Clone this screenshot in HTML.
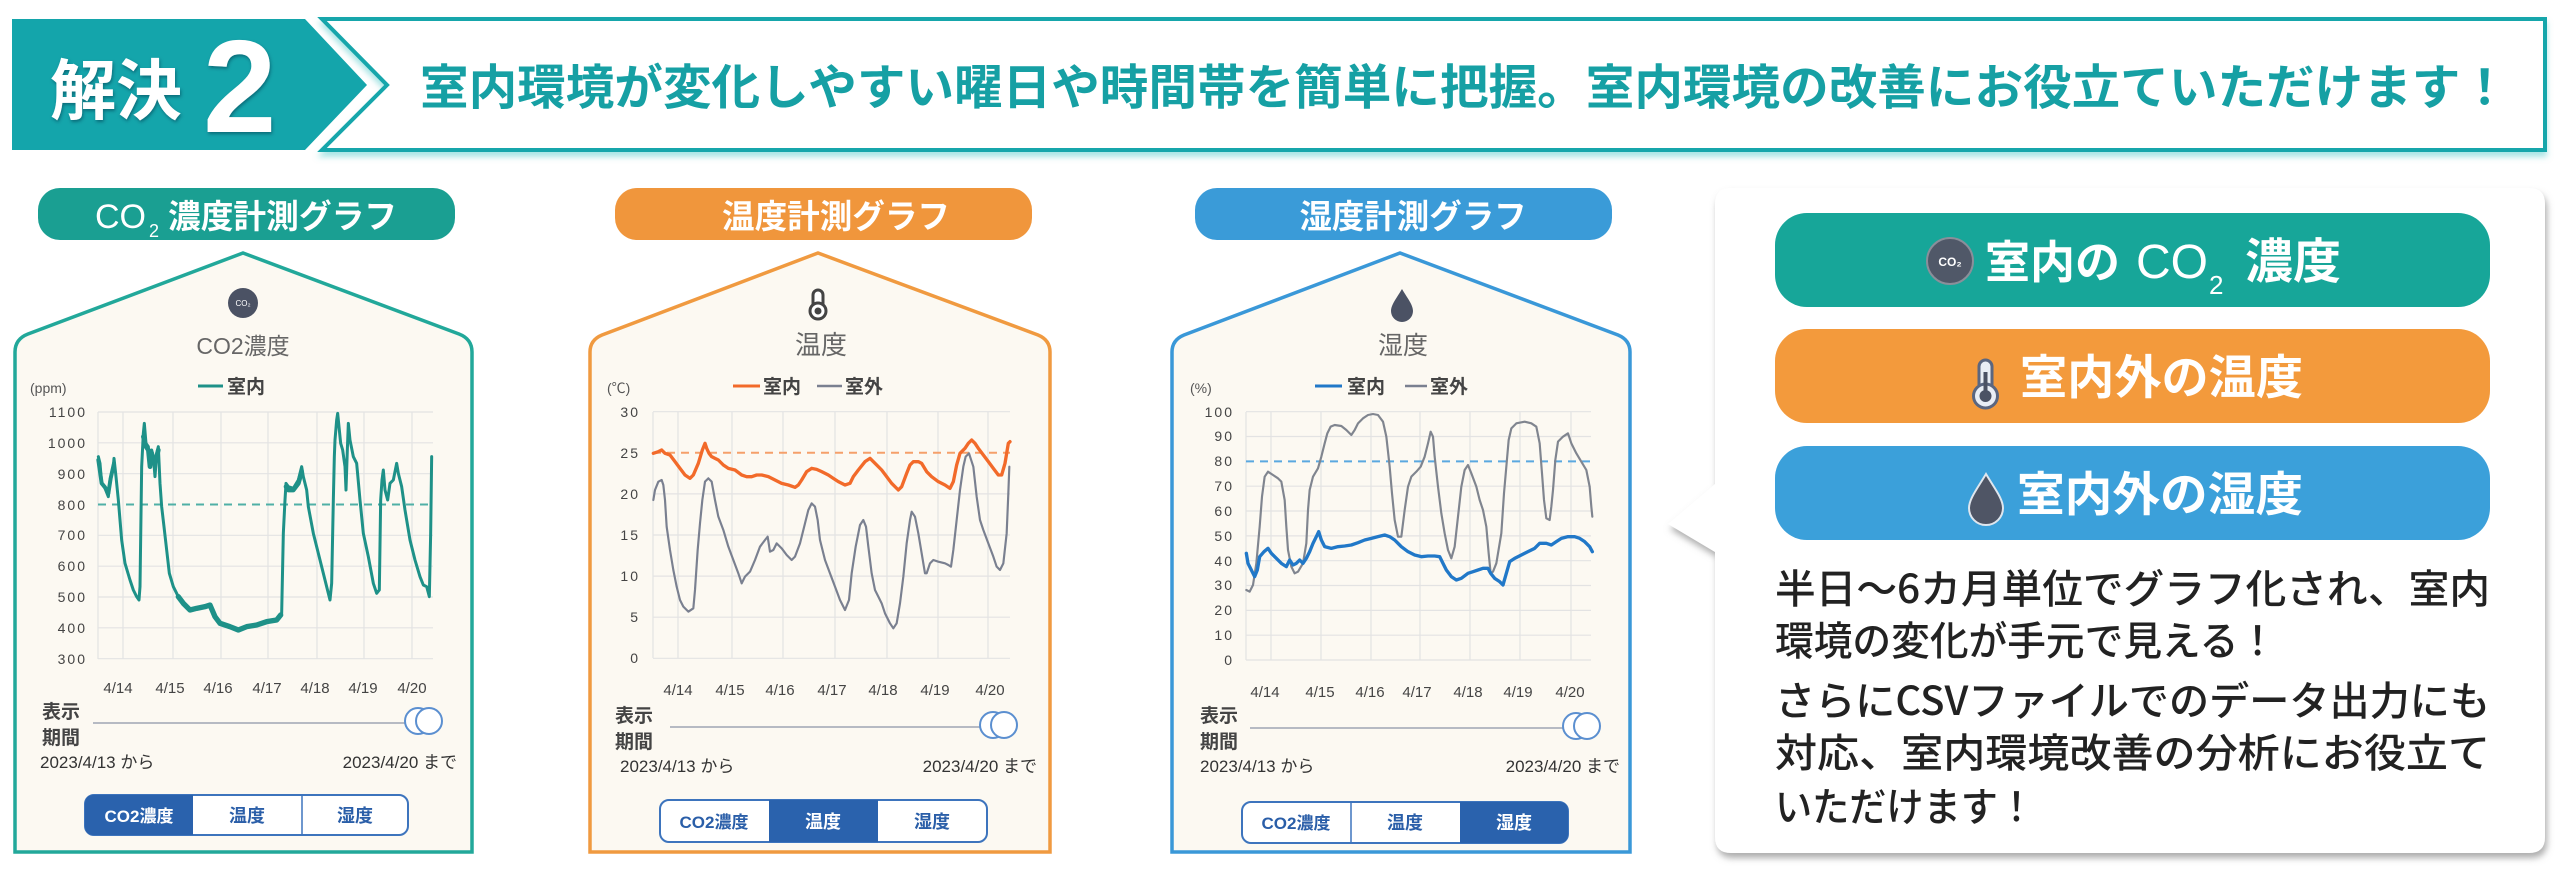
<!DOCTYPE html>
<html><head><meta charset="utf-8">
<style>
html,body{margin:0;padding:0;background:#fff;}
svg{display:block;}
text{font-family:"Liberation Sans","Noto Sans CJK JP",sans-serif;}
.j{font-family:"Noto Sans CJK JP","Liberation Sans",sans-serif;}
</style></head><body>
<svg width="2560" height="870" viewBox="0 0 2560 870" xmlns="http://www.w3.org/2000/svg">
<defs>
<filter id="sh" x="-5%" y="-5%" width="110%" height="115%"><feDropShadow dx="2" dy="5" stdDeviation="3.5" flood-color="#777" flood-opacity="0.6"/></filter>
<filter id="hs" x="-2%" y="-10%" width="104%" height="130%"><feDropShadow dx="0" dy="5" stdDeviation="3" flood-color="#5cc" flood-opacity="0.5"/></filter>
<filter id="ts" x="-10%" y="-10%" width="120%" height="130%"><feDropShadow dx="1" dy="2" stdDeviation="1.5" flood-color="#034" flood-opacity="0.5"/></filter>
</defs>

<!-- ===== HEADER ===== -->
<polygon points="12,19 305,19 367,85 305,150 12,150" fill="#14a5ab"/>
<polygon points="322,19 2545,19 2545,150 322,150 387,85" fill="#fff" stroke="#17a6ab" stroke-width="4" filter="url(#hs)"/>
<text x="50" y="114" class="j" font-size="66" font-weight="bold" fill="#fff" filter="url(#ts)">解決</text>
<text x="203" y="132" font-size="132" font-weight="bold" fill="#fff" filter="url(#ts)">2</text>
<text x="420" y="104" class="j" font-size="48" font-weight="bold" fill="#16a0a4" textLength="2089" lengthAdjust="spacingAndGlyphs">室内環境が変化しやすい曜日や時間帯を簡単に把握。室内環境の改善にお役立ていただけます！</text>

<!-- ===== PANEL 1 (CO2) ===== -->
<rect x="38" y="188" width="417" height="52" rx="22" fill="#1a9f92"/>
<text x="95" y="228" font-size="34" fill="#fff">CO</text>
<text x="149" y="237" font-size="18" fill="#fff">2</text>
<text x="168" y="228" class="j" font-size="33" font-weight="bold" fill="#fff" textLength="229" lengthAdjust="spacingAndGlyphs">濃度計測グラフ</text>
<path d="M15 852 L15 352 Q15 339 28 334 L243 253 L459 334 Q472 339 472 352 L472 852 Z" fill="#fcf9f2" stroke="#22a89a" stroke-width="3.5"/>
<circle cx="243" cy="303" r="15" fill="#4b5264"/>
<text x="243" y="306" font-size="8" fill="#fff" text-anchor="middle">CO₂</text>
<text x="243" y="354" font-size="23" fill="#666" text-anchor="middle">CO2<tspan class="j">濃度</tspan></text>
<text x="30" y="393" font-size="14" fill="#555">(ppm)</text>
<line x1="198" y1="386" x2="223" y2="386" stroke="#1e9188" stroke-width="3"/>
<text x="227" y="393" class="j" font-size="19" font-weight="bold" fill="#444">室内</text>
<g stroke="#e3e3e3" stroke-width="1.2">
<line x1="98" y1="412" x2="433" y2="412"/><line x1="98" y1="442.8" x2="433" y2="442.8"/><line x1="98" y1="473.7" x2="433" y2="473.7"/><line x1="98" y1="535.3" x2="433" y2="535.3"/><line x1="98" y1="566.2" x2="433" y2="566.2"/><line x1="98" y1="597" x2="433" y2="597"/><line x1="98" y1="627.8" x2="433" y2="627.8"/><line x1="98" y1="658.7" x2="433" y2="658.7"/>
<line x1="98" y1="412" x2="98" y2="659"/><line x1="123" y1="412" x2="123" y2="659"/><line x1="173" y1="412" x2="173" y2="659"/><line x1="221" y1="412" x2="221" y2="659"/><line x1="268" y1="412" x2="268" y2="659"/><line x1="317" y1="412" x2="317" y2="659"/><line x1="364" y1="412" x2="364" y2="659"/><line x1="412" y1="412" x2="412" y2="659"/>
</g>
<line x1="98" y1="504.5" x2="433" y2="504.5" stroke="#4fb0a6" stroke-width="2" stroke-dasharray="8 6"/>
<g font-size="14" fill="#444" text-anchor="end" letter-spacing="2">
<text x="87" y="417">1100</text><text x="87" y="448">1000</text><text x="87" y="479">900</text><text x="87" y="510">800</text><text x="87" y="540">700</text><text x="87" y="571">600</text><text x="87" y="602">500</text><text x="87" y="633">400</text><text x="87" y="664">300</text>
</g>
<g transform="translate(90,400) scale(0.33333)" fill="none" stroke="#1e9188" stroke-linejoin="round" stroke-linecap="round">
<polyline stroke-width="9" points="25,170 30,190 35,250 45,265 55,290 60,240 70,200 72,175 78,230 85,300 95,420 105,490 120,540 130,570 140,590 147,600 150,560 155,200 160,100 163,70 168,130 175,140 180,200 185,150 190,170 195,230 200,160 205,140 210,250 215,320 222,380 230,450 238,520 250,560 265,590 280,610 300,630 320,625 345,620 360,615 375,650 390,670 420,680 445,690 470,680 500,675 530,665 560,660 575,640 580,400 585,300 588,250 595,260 610,265 625,240 635,200 640,230 650,270 655,320 670,400 690,480 705,540 715,580 720,600 725,550 730,300 733,170 735,120 740,60 743,40 747,80 752,130 758,150 765,200 768,270 772,150 775,70 780,120 790,170 800,190 810,300 820,400 835,470 850,550 860,580 868,570 872,300 876,240 880,210 885,270 893,300 900,250 910,240 920,190 925,220 935,260 945,330 960,420 975,480 990,530 1000,555 1010,560 1018,590 1022,400 1025,170"/>
<polyline stroke-width="16" points="265,590 280,610 300,630 320,625 345,620 360,615 375,650 390,670 420,680 445,690 470,680 500,675 530,665 560,660 572,645"/>
<polyline stroke-width="14" points="160,110 168,140 175,150 180,200 185,160 190,180 200,170 205,150"/>
<polyline stroke-width="14" points="588,260 595,270 610,270 625,250 635,215"/>
<polyline stroke-width="12" points="25,180 35,250 45,262 55,280 62,235 72,190"/>
</g>
<g font-size="15" fill="#444" text-anchor="middle">
<text x="118" y="693">4/14</text><text x="170" y="693">4/15</text><text x="218" y="693">4/16</text><text x="267" y="693">4/17</text><text x="315" y="693">4/18</text><text x="363" y="693">4/19</text><text x="412" y="693">4/20</text>
</g>
<text x="42" y="718" class="j" font-size="19" font-weight="bold" fill="#444">表示</text>
<text x="42" y="744" class="j" font-size="19" font-weight="bold" fill="#444">期間</text>
<line x1="93" y1="723" x2="408" y2="723" stroke="#b6bac3" stroke-width="2"/>
<circle cx="418" cy="721" r="13" fill="#fff" stroke="#5b8fd0" stroke-width="2"/>
<circle cx="429" cy="721" r="13" fill="#fff" stroke="#5b8fd0" stroke-width="2"/>
<text x="40" y="768" font-size="17" fill="#333">2023/4/13 <tspan class="j">から</tspan></text>
<text x="457" y="768" font-size="17" fill="#333" text-anchor="end">2023/4/20 <tspan class="j">まで</tspan></text>
<rect x="85" y="795" width="323" height="40" rx="9" fill="#fff" stroke="#3d74bd" stroke-width="2"/>
<path d="M94 795 H193 V835 H94 Q85 835 85 826 V804 Q85 795 94 795 Z" fill="#2a62ad"/>
<line x1="302" y1="796" x2="302" y2="834" stroke="#3d74bd" stroke-width="1.5"/>
<text x="139" y="822" font-size="17" font-weight="bold" fill="#fff" text-anchor="middle">CO2<tspan class="j">濃度</tspan></text>
<text x="247" y="822" class="j" font-size="18" font-weight="bold" fill="#2a5ea8" text-anchor="middle">温度</text>
<text x="355" y="822" class="j" font-size="18" font-weight="bold" fill="#2a5ea8" text-anchor="middle">湿度</text>

<!-- ===== PANEL 2 (Temp) ===== -->
<rect x="615" y="188" width="417" height="52" rx="22" fill="#f0963c"/>
<text x="836" y="228" class="j" font-size="33" font-weight="bold" fill="#fff" text-anchor="middle" textLength="228" lengthAdjust="spacingAndGlyphs">温度計測グラフ</text>
<path d="M590 852 L590 352 Q590 340 602 335 L818 253 L1038 335 Q1050 340 1050 352 L1050 852 Z" fill="#fcf9f2" stroke="#f09a40" stroke-width="3.5"/>
<rect x="813" y="290" width="10" height="19" rx="5" fill="#fff" stroke="#444" stroke-width="3"/>
<circle cx="818" cy="311" r="8" fill="#fff" stroke="#444" stroke-width="3"/>
<circle cx="818" cy="311" r="3.5" fill="#444"/>
<text x="821" y="354" class="j" font-size="26" fill="#666" text-anchor="middle">温度</text>
<text x="607" y="393" font-size="14" fill="#555">(℃)</text>
<line x1="733" y1="386" x2="760" y2="386" stroke="#f26a2a" stroke-width="3"/>
<text x="763" y="393" class="j" font-size="19" font-weight="bold" fill="#444">室内</text>
<line x1="817" y1="386" x2="842" y2="386" stroke="#7a8090" stroke-width="2.5"/>
<text x="845" y="393" class="j" font-size="19" font-weight="bold" fill="#444">室外</text>
<g stroke="#e3e3e3" stroke-width="1.2">
<line x1="653" y1="411.7" x2="1010" y2="411.7"/><line x1="653" y1="493.9" x2="1010" y2="493.9"/><line x1="653" y1="535" x2="1010" y2="535"/><line x1="653" y1="576.1" x2="1010" y2="576.1"/><line x1="653" y1="617.2" x2="1010" y2="617.2"/><line x1="653" y1="658.3" x2="1010" y2="658.3"/>
<line x1="653" y1="412" x2="653" y2="658"/><line x1="678" y1="412" x2="678" y2="658"/><line x1="732" y1="412" x2="732" y2="658"/><line x1="783" y1="412" x2="783" y2="658"/><line x1="835" y1="412" x2="835" y2="658"/><line x1="887" y1="412" x2="887" y2="658"/><line x1="938" y1="412" x2="938" y2="658"/><line x1="988" y1="412" x2="988" y2="658"/>
</g>
<line x1="653" y1="452.8" x2="1010" y2="452.8" stroke="#f5a06a" stroke-width="2" stroke-dasharray="8 6"/>
<g font-size="14" fill="#444" text-anchor="end" letter-spacing="2">
<text x="640" y="417">30</text><text x="640" y="458">25</text><text x="640" y="499">20</text><text x="640" y="540">15</text><text x="640" y="581">10</text><text x="640" y="622">5</text><text x="640" y="663">0</text>
</g>
<g transform="translate(645,400) scale(0.33333)" fill="none" stroke-linejoin="round" stroke-linecap="round">
<polyline stroke="#7a8090" stroke-width="6.5" points="25,300 30,270 40,245 50,240 55,255 60,300 65,380 75,450 85,510 95,560 105,600 115,620 130,635 145,625 150,570 158,450 165,370 172,300 180,245 190,235 200,245 210,300 220,350 235,390 250,440 265,480 280,520 290,550 300,530 315,515 330,480 345,440 360,420 368,410 375,455 385,450 395,430 410,445 425,465 440,480 450,470 465,430 480,370 490,330 500,310 510,320 518,360 525,420 540,480 555,520 570,560 585,600 600,630 612,600 620,520 632,440 645,375 655,360 663,380 670,440 680,520 690,570 700,590 710,610 720,640 735,670 745,685 755,670 765,610 775,530 785,430 795,360 800,335 810,350 820,400 830,460 840,520 845,520 855,490 865,480 880,485 900,490 910,495 918,500 925,450 935,360 945,270 955,200 962,170 972,160 985,200 995,290 1005,360 1015,390 1030,430 1045,470 1055,500 1065,510 1075,490 1085,400 1090,280 1093,200"/>
<polyline stroke="#f26a2a" stroke-width="10" points="25,160 40,155 50,150 60,160 75,165 90,185 105,205 120,225 135,235 145,225 160,190 172,150 180,130 185,145 192,160 200,170 210,175 220,180 235,195 250,205 270,210 290,225 305,230 320,230 335,225 350,225 370,230 390,240 410,250 430,255 450,262 460,255 470,240 485,215 500,205 515,208 530,215 550,225 565,235 580,245 600,255 615,250 625,230 640,210 660,185 675,175 690,190 710,210 725,230 740,250 760,270 770,260 785,220 795,195 805,185 820,185 830,190 845,215 860,230 880,245 900,255 915,265 925,245 935,195 945,160 960,145 970,130 980,120 990,130 1000,145 1015,165 1030,185 1045,205 1060,225 1070,225 1080,190 1090,130 1095,125"/>
</g>
<g font-size="15" fill="#444" text-anchor="middle">
<text x="678" y="695">4/14</text><text x="730" y="695">4/15</text><text x="780" y="695">4/16</text><text x="832" y="695">4/17</text><text x="883" y="695">4/18</text><text x="935" y="695">4/19</text><text x="990" y="695">4/20</text>
</g>
<text x="615" y="722" class="j" font-size="19" font-weight="bold" fill="#444">表示</text>
<text x="615" y="748" class="j" font-size="19" font-weight="bold" fill="#444">期間</text>
<line x1="670" y1="727" x2="983" y2="727" stroke="#b6bac3" stroke-width="2"/>
<circle cx="993" cy="725" r="13" fill="#fff" stroke="#5b8fd0" stroke-width="2"/>
<circle cx="1004" cy="725" r="13" fill="#fff" stroke="#5b8fd0" stroke-width="2"/>
<text x="620" y="772" font-size="17" fill="#333">2023/4/13 <tspan class="j">から</tspan></text>
<text x="1037" y="772" font-size="17" fill="#333" text-anchor="end">2023/4/20 <tspan class="j">まで</tspan></text>
<rect x="660" y="800" width="327" height="42" rx="9" fill="#fff" stroke="#3d74bd" stroke-width="2"/>
<rect x="769" y="800" width="109" height="42" fill="#2a62ad"/>
<text x="714" y="828" font-size="17" font-weight="bold" fill="#2a5ea8" text-anchor="middle">CO2<tspan class="j">濃度</tspan></text>
<text x="823" y="828" class="j" font-size="18" font-weight="bold" fill="#fff" text-anchor="middle">温度</text>
<text x="932" y="828" class="j" font-size="18" font-weight="bold" fill="#2a5ea8" text-anchor="middle">湿度</text>

<!-- ===== PANEL 3 (Humidity) ===== -->
<rect x="1195" y="188" width="417" height="52" rx="22" fill="#3a9bd8"/>
<text x="1413" y="228" class="j" font-size="33" font-weight="bold" fill="#fff" text-anchor="middle" textLength="227" lengthAdjust="spacingAndGlyphs">湿度計測グラフ</text>
<path d="M1172 852 L1172 352 Q1172 340 1184 335 L1400 253 L1618 335 Q1630 340 1630 352 L1630 852 Z" fill="#fcf9f2" stroke="#3a98d8" stroke-width="3.5"/>
<path d="M1402 289 C1396 299 1391 305 1391 311 A11 11 0 0 0 1413 311 C1413 305 1408 299 1402 289 Z" fill="#4b5264"/>
<text x="1403" y="354" class="j" font-size="25" fill="#666" text-anchor="middle">湿度</text>
<text x="1190" y="393" font-size="14" fill="#555">(%)</text>
<line x1="1315" y1="386" x2="1342" y2="386" stroke="#2178c8" stroke-width="3"/>
<text x="1347" y="393" class="j" font-size="19" font-weight="bold" fill="#444">室内</text>
<line x1="1405" y1="386" x2="1427" y2="386" stroke="#7a8090" stroke-width="2.5"/>
<text x="1430" y="393" class="j" font-size="19" font-weight="bold" fill="#444">室外</text>
<g stroke="#e3e3e3" stroke-width="1.2">
<line x1="1246" y1="411.7" x2="1591" y2="411.7"/><line x1="1246" y1="436.5" x2="1591" y2="436.5"/><line x1="1246" y1="486.2" x2="1591" y2="486.2"/><line x1="1246" y1="511" x2="1591" y2="511"/><line x1="1246" y1="535.9" x2="1591" y2="535.9"/><line x1="1246" y1="560.7" x2="1591" y2="560.7"/><line x1="1246" y1="585.5" x2="1591" y2="585.5"/><line x1="1246" y1="610.4" x2="1591" y2="610.4"/><line x1="1246" y1="635.2" x2="1591" y2="635.2"/><line x1="1246" y1="660" x2="1591" y2="660"/>
<line x1="1246" y1="412" x2="1246" y2="660"/><line x1="1271" y1="412" x2="1271" y2="660"/><line x1="1321" y1="412" x2="1321" y2="660"/><line x1="1371" y1="412" x2="1371" y2="660"/><line x1="1420" y1="412" x2="1420" y2="660"/><line x1="1470" y1="412" x2="1470" y2="660"/><line x1="1520" y1="412" x2="1520" y2="660"/><line x1="1571" y1="412" x2="1571" y2="660"/>
</g>
<line x1="1246" y1="461.4" x2="1591" y2="461.4" stroke="#5aa8e0" stroke-width="2" stroke-dasharray="8 6"/>
<g font-size="14" fill="#444" text-anchor="end" letter-spacing="2">
<text x="1234" y="417">100</text><text x="1234" y="441">90</text><text x="1234" y="466">80</text><text x="1234" y="491">70</text><text x="1234" y="516">60</text><text x="1234" y="541">50</text><text x="1234" y="566">40</text><text x="1234" y="590">30</text><text x="1234" y="615">20</text><text x="1234" y="640">10</text><text x="1234" y="665">0</text>
</g>
<g transform="translate(1238,400) scale(0.33333)" fill="none" stroke-linejoin="round" stroke-linecap="round">
<polyline stroke="#80858f" stroke-width="6.5" points="25,570 35,575 45,555 55,490 65,380 72,290 80,230 90,215 105,225 120,235 130,245 140,300 145,380 150,450 160,500 170,520 180,515 195,490 205,430 210,330 215,270 225,230 240,205 250,170 260,130 268,100 278,80 290,75 310,78 325,90 340,105 350,90 360,70 375,55 390,45 405,42 420,45 435,65 445,110 455,200 462,280 470,360 480,410 490,410 500,330 510,260 520,230 535,215 548,200 560,170 570,130 578,95 585,110 590,170 600,260 610,340 620,400 630,450 640,475 650,440 660,350 670,260 680,210 690,195 700,220 715,260 725,300 735,330 745,380 752,460 758,520 765,515 775,490 790,400 798,280 805,200 812,120 820,85 835,70 860,65 880,70 895,80 905,130 912,220 918,300 925,355 935,360 940,320 945,270 952,180 960,125 975,110 990,100 1000,130 1015,160 1030,185 1045,210 1055,260 1060,320 1063,350"/>
<polyline stroke="#2178c8" stroke-width="10" points="25,460 30,490 40,510 50,530 58,510 65,470 78,455 90,445 100,460 115,475 130,490 145,500 155,480 165,495 175,490 185,480 195,490 205,475 215,455 225,430 235,410 242,395 250,420 260,440 280,445 300,440 320,438 340,435 360,428 380,420 400,415 420,410 440,405 455,410 470,420 490,440 510,455 530,465 550,470 570,468 590,468 605,470 615,490 625,510 640,530 655,540 670,535 690,520 705,515 720,510 735,505 750,505 758,520 770,535 785,545 795,555 805,520 815,485 830,475 850,465 870,455 890,445 905,430 925,430 940,435 955,425 970,415 990,410 1010,410 1025,415 1040,425 1055,440 1063,455"/>
</g>
<g font-size="15" fill="#444" text-anchor="middle">
<text x="1265" y="697">4/14</text><text x="1320" y="697">4/15</text><text x="1370" y="697">4/16</text><text x="1417" y="697">4/17</text><text x="1468" y="697">4/18</text><text x="1518" y="697">4/19</text><text x="1570" y="697">4/20</text>
</g>
<text x="1200" y="722" class="j" font-size="19" font-weight="bold" fill="#444">表示</text>
<text x="1200" y="748" class="j" font-size="19" font-weight="bold" fill="#444">期間</text>
<line x1="1250" y1="728" x2="1565" y2="728" stroke="#b6bac3" stroke-width="2"/>
<circle cx="1576" cy="726" r="13" fill="#fff" stroke="#5b8fd0" stroke-width="2"/>
<circle cx="1587" cy="726" r="13" fill="#fff" stroke="#5b8fd0" stroke-width="2"/>
<text x="1200" y="772" font-size="17" fill="#333">2023/4/13 <tspan class="j">から</tspan></text>
<text x="1620" y="772" font-size="17" fill="#333" text-anchor="end">2023/4/20 <tspan class="j">まで</tspan></text>
<rect x="1242" y="802" width="326" height="41" rx="9" fill="#fff" stroke="#3d74bd" stroke-width="2"/>
<path d="M1460 802 H1559 Q1568 802 1568 811 V834 Q1568 843 1559 843 H1460 Z" fill="#2a62ad"/>
<line x1="1351" y1="803" x2="1351" y2="842" stroke="#3d74bd" stroke-width="1.5"/>
<text x="1296" y="829" font-size="17" font-weight="bold" fill="#2a5ea8" text-anchor="middle">CO2<tspan class="j">濃度</tspan></text>
<text x="1405" y="829" class="j" font-size="18" font-weight="bold" fill="#2a5ea8" text-anchor="middle">温度</text>
<text x="1514" y="829" class="j" font-size="18" font-weight="bold" fill="#fff" text-anchor="middle">湿度</text>

<!-- ===== RIGHT BOX ===== -->
<path d="M1731 188 H2529 Q2545 188 2545 204 V837 Q2545 853 2529 853 H1731 Q1715 853 1715 837 V552 L1668 524 L1715 484 V204 Q1715 188 1731 188 Z" fill="#fff" filter="url(#sh)"/>
<rect x="1775" y="213" width="715" height="94" rx="32" fill="#17a699"/>
<circle cx="1950" cy="261" r="23" fill="#505868" stroke="#8a8f9a" stroke-width="2"/>
<text x="1950" y="266" font-size="12" font-weight="bold" fill="#fff" text-anchor="middle">CO₂</text>
<text x="1985" y="278" class="j" font-size="45" font-weight="bold" fill="#fff">室内の</text>
<text x="2136" y="278" font-size="48" fill="#fff">CO</text>
<text x="2209" y="294" font-size="26" fill="#fff">2</text>
<text x="2245" y="278" class="j" font-size="48" font-weight="bold" fill="#fff">濃度</text>

<rect x="1775" y="329" width="715" height="94" rx="32" fill="#f39a3c"/>
<rect x="1979" y="360" width="13" height="34" rx="6.5" fill="#e9eef5" stroke="#5a6680" stroke-width="3"/>
<circle cx="1985.5" cy="396" r="12" fill="#e9eef5" stroke="#5a6680" stroke-width="3"/>
<circle cx="1985.5" cy="396" r="6" fill="#4b5264"/>
<rect x="1983.5" y="372" width="4" height="22" fill="#4b5264"/>
<text x="2020" y="394" class="j" font-size="47" font-weight="bold" fill="#fff" textLength="283" lengthAdjust="spacingAndGlyphs">室内外の温度</text>

<rect x="1775" y="446" width="715" height="94" rx="32" fill="#3ba0da"/>
<path d="M1986 474 C1977 489 1969 499 1969 508 A17 17 0 0 0 2003 508 C2003 499 1995 489 1986 474 Z" fill="#4f5565" stroke="#dfe6ee" stroke-width="2"/>
<text x="2017" y="511" class="j" font-size="47" font-weight="bold" fill="#fff" textLength="286" lengthAdjust="spacingAndGlyphs">室内外の湿度</text>

<g class="j" font-size="40" font-weight="500" fill="#222">
<text x="1775" y="603" class="j" textLength="715" lengthAdjust="spacingAndGlyphs">半日～6カ月単位でグラフ化され、室内</text>
<text x="1775" y="655" class="j" textLength="502" lengthAdjust="spacingAndGlyphs">環境の変化が手元で見える！</text>
<text x="1775" y="715" class="j" textLength="715" lengthAdjust="spacingAndGlyphs">さらにCSVファイルでのデータ出力にも</text>
<text x="1775" y="767" class="j" textLength="715" lengthAdjust="spacingAndGlyphs">対応、室内環境改善の分析にお役立て</text>
<text x="1775" y="821" class="j" textLength="260" lengthAdjust="spacingAndGlyphs">いただけます！</text>
</g>
</svg>
</body></html>
